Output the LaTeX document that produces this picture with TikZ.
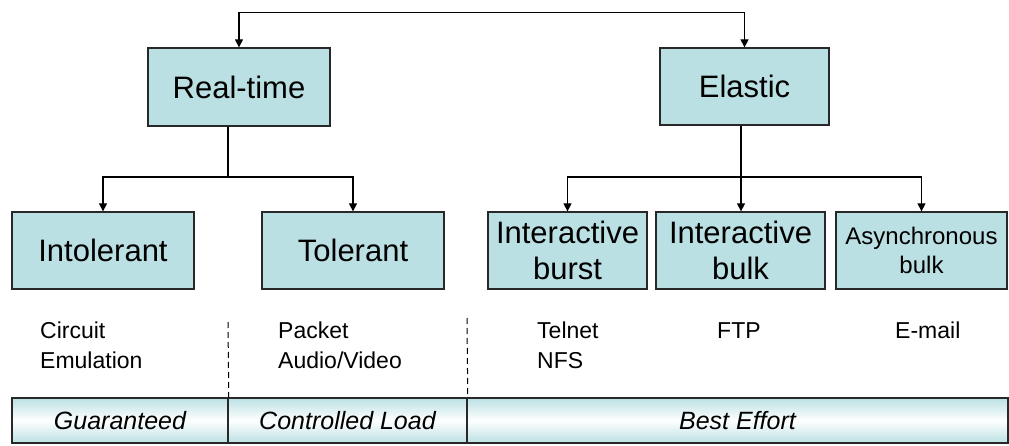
\documentclass[tikz,border=0pt]{standalone}
\usepackage{fontspec}
\setmainfont{Liberation Sans}
\usepackage{tikz}
\usetikzlibrary{arrows.meta, positioning, calc}
\definecolor{boxteal}{RGB}{187,224,227}
\definecolor{edgedark}{RGB}{40,40,40}
\tikzset{
  >={Triangle[length=8pt, width=8pt]},
  block/.style={rectangle, draw=edgedark, fill=boxteal, line width=1.3pt,
    inner sep=0pt, align=center, font=\fontsize{31}{36}\selectfont},
  small block/.style={block, font=\fontsize{24}{29}\selectfont},
  arrow/.style={->, line width=1.3pt, color=black},
  line/.style={line width=1.3pt, color=black},
  app/.style={anchor=north west, inner sep=0pt, align=left,
    font=\fontsize{23}{30}\selectfont},
  band/.style={rectangle, draw=edgedark, line width=1.5pt, top color=boxteal,
    bottom color=boxteal, middle color=white, minimum height=45pt,
    inner sep=0pt, font=\fontsize{25}{30}\selectfont\itshape},
  divider/.style={dashed, dash pattern=on 6pt off 4pt, line width=1pt}
}

\begin{document}
\begin{tikzpicture}[x=1pt, y=-1pt]
    \useasboundingbox (0,0) rectangle (1009,446);

    % Service classes
    \node[block, minimum width=182pt, minimum height=78pt] (rt) at (239,87) {Real-time};
    \node[block, minimum width=169pt, minimum height=77pt] (el) at (744.5,86.5) {Elastic};
    \draw[arrow, <->] (rt.north) -- ++(0,-35) -| (el.north);

    % Real-time subclasses
    \node[block, minimum width=182pt, minimum height=77pt] (intol) at (103,250.5) {Intolerant};
    \node[block, minimum width=182pt, minimum height=77pt] (tol) at (353,250.5) {Tolerant};
    \coordinate (rtj) at (228,177);
    \draw[line] (rt.south -| rtj) -- (rtj);
    \draw[arrow] (rtj) -| (intol.north);
    \draw[arrow] (rtj) -| (tol.north);

    % Elastic subclasses
    \node[block, minimum width=159pt, minimum height=77pt] (burst) at (567.5,250.5) {Interactive\\burst};
    \node[block, minimum width=169pt, minimum height=77pt] (bulk) at (740.5,250.5) {Interactive\\bulk};
    \node[small block, minimum width=171pt, minimum height=77pt] (async) at (921.5,250.5) {Asynchronous\\bulk};
    \coordinate (elj) at (741,177);
    \draw[line] (el.south -| elj) -- (elj);
    \draw[arrow] (elj) -| (burst.north);
    \draw[arrow] (elj) -- (elj |- bulk.north);
    \draw[arrow] (elj) -| (async.north);

    % Applications
    \node[app] (circ) at (40,322) {Circuit\\Emulation};
    \node[app] (pkt) at (278,322) {Packet\\Audio/Video};
    \node[app] (tel) at (537,322) {Telnet\\NFS};
    \node[app] (ftp) at (717,322) {FTP};
    \node[app] (mail) at (895,322) {E-mail};

    % Service levels
    \node[band, minimum width=216pt] (gbar) at (120,420.5) {Guaranteed};
    \node[band, minimum width=239pt] (cbar) at (347.5,420.5) {Controlled Load};
    \node[band, minimum width=541pt] (bbar) at (737.5,420.5) {Best Effort};
    \draw[divider] (228,322) -- (gbar.north east);
    \draw[divider] (467,318) -- (cbar.north east);
\end{tikzpicture}
\end{document}
